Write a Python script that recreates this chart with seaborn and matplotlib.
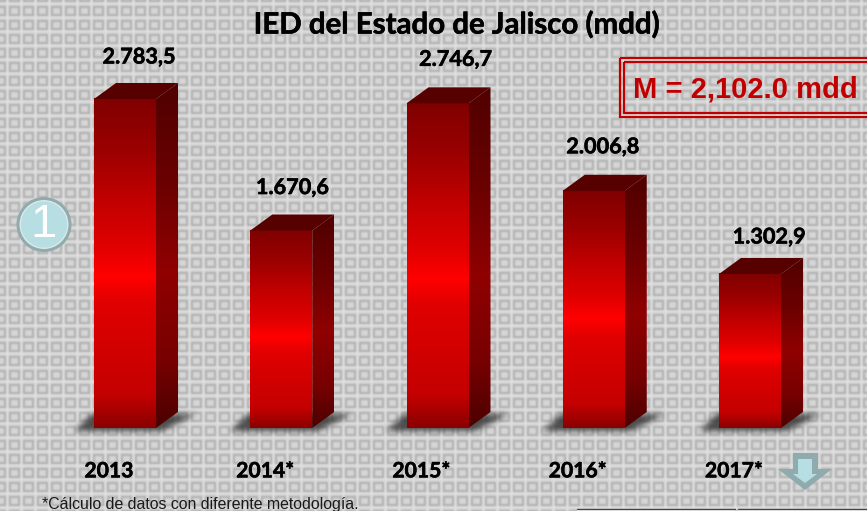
import numpy as np
import pandas as pd
import seaborn as sns
import matplotlib.pyplot as plt
import matplotlib.patheffects as pe
from matplotlib.colors import LinearSegmentedColormap
from matplotlib.patches import Circle, Polygon, Rectangle
from matplotlib.path import Path
from matplotlib.transforms import ScaledTranslation

# Chart data
years = ["2013", "2014*", "2015*", "2016*", "2017*"]
ied = [2783.5, 1670.6, 2746.7, 2006.8, 1302.9]
value_labels = ["2.783,5", "1.670,6", "2.746,7", "2.006,8", "1.302,9"]

# Value label placement relative to the front of each bar, in pixels
label_dx = [14, 11, 18, 9, 19]
label_dy = [42, 43, 44, 44, 37]

W, H = 867, 511
BASE = 428        # pixel row of the bar bottoms
PX_PER_UNIT = 0.1182
PITCH = 156.25    # pixels between bars
DEPTH_X, DEPTH_Y = 22, 16

sns.set_theme(style="white")
plt.rcParams["font.family"] = ["Lato", "DejaVu Sans"]

# Lato bold comes out lighter than the original, so thicken it a bit
heavy = [pe.withStroke(linewidth=0.4, foreground="black")]


def blur(a, n):
    # repeated box filter, wraps at the edges
    for _ in range(n):
        a = (a + np.roll(a, 1, 0) + np.roll(a, -1, 0) + np.roll(a, 1, 1) + np.roll(a, -1, 1)) / 5
    return a


fig = plt.figure(figsize=(W / 100, H / 100), dpi=100)

# Tiled background
tile = np.full((14, 14), 212.0)
tile[1:11, 1:12] = 176
tile[3:9, 3:10] = 214
tile[12, :] = 230
tile[:, 13] = 230
tile = blur(tile, 2)
bg = np.tile(tile, (H // 14 + 2, W // 14 + 2))
bg = bg[9:9 + H, 6:6 + W]
fig.figimage(np.dstack([bg, bg, bg]).astype(np.uint8), zorder=0, origin="upper")

# Main axes: covers everything above the bar baseline
ax = fig.add_axes([0, (H - BASE) / H, 1, BASE / H])
ax.set_zorder(2)
ax.patch.set_visible(False)

df = pd.DataFrame({"year": years, "ied": ied})
sns.barplot(data=df, x="year", y="ied", width=62 / PITCH, color="#b00000", saturation=1,
            linewidth=0, ax=ax)
ax.set_xlim(-125 / PITCH, (W - 125) / PITCH)
xlim = ax.get_xlim()
ylim = (0, BASE / PX_PER_UNIT)
ax.set_ylim(ylim)
ax.set_xlabel("")
ax.set_ylabel("")
ax.yaxis.set_visible(False)
sns.despine(ax=ax, left=True, bottom=True)
ax.tick_params(axis="x", length=0, pad=24)
shift = ScaledTranslation(-16 / 100, 0, fig.dpi_scale_trans)
for lab in ax.get_xticklabels():
    lab.set_fontsize(15.2)
    lab.set_fontweight("bold")
    lab.set_color("black")
    lab.set_path_effects(heavy)
    lab.set_transform(lab.get_transform() + shift)

front_cmap = LinearSegmentedColormap.from_list("front", [
    (0, "#800000"), (0.15, "#9a0000"), (0.3, "#c00000"), (0.45, "#e00000"), (0.54, "#ff0000"),
    (0.62, "#e00000"), (0.9, "#c40000"), (1, "#8a0000")])
side_cmap = LinearSegmentedColormap.from_list("side", [
    (0, "#500000"), (0.3, "#6c0000"), (0.55, "#900000"), (0.8, "#780000"), (1, "#4c0000")])
grad = np.linspace(0, 1, 256).reshape(-1, 1)

dx = DEPTH_X / PITCH
dy = DEPTH_Y / PX_PER_UNIT
shadow_mask = np.zeros((H, W))
yy, xx = np.mgrid[0:H, 0:W]
grid = np.column_stack([xx.ravel() + 0.5, yy.ravel() + 0.5])

for bar, val, lab, ldx, ldy in zip(ax.patches, ied, value_labels, label_dx, label_dy):
    x0, x1 = bar.get_x(), bar.get_x() + bar.get_width()
    h = bar.get_height()
    ax.imshow(grad, cmap=front_cmap, extent=(x0, x1, 0, h), aspect="auto", zorder=3)

    side = Polygon([(x1, 0), (x1 + dx, dy), (x1 + dx, h + dy), (x1, h)], closed=True,
                   facecolor="none", edgecolor="none", zorder=3)
    ax.add_patch(side)
    im = ax.imshow(grad, cmap=side_cmap, extent=(x1, x1 + dx, 0, h + dy), aspect="auto", zorder=3)
    im.set_clip_path(side)
    ax.add_patch(Polygon([(x0, h), (x0 + dx, h + dy), (x1 + dx, h + dy), (x1, h)], closed=True,
                         facecolor="#560000", edgecolor="none", zorder=3))
    ax.text((x0 + x1) / 2 + ldx / PITCH, h + ldy / PX_PER_UNIT, lab, ha="center", va="center",
            fontsize=15.6, fontweight="bold", color="black", zorder=5, path_effects=heavy)

    # soft shadow on the floor
    px0 = (x0 - xlim[0]) * PITCH
    px1 = (x1 - xlim[0]) * PITCH
    poly = Path([(px0 - 20, BASE + 3), (px0 - 2, BASE - 14), (px1 + DEPTH_X + 18, BASE - 14),
                 (px1 + 6, BASE + 3)])
    shadow_mask += poly.contains_points(grid).reshape(H, W)

ax.set_xlim(xlim)
ax.set_ylim(ylim)

shadow = blur(shadow_mask, 22) * 0.85
rgba = np.zeros((H, W, 4))
rgba[..., :3] = 0.2
rgba[..., 3] = shadow
fig.figimage(rgba, zorder=1, origin="upper")

# Overlay in pixel coordinates for the slide furniture
px = fig.add_axes([0, 0, 1, 1])
px.set_zorder(3)
px.set_xlim(0, W)
px.set_ylim(H, 0)
px.axis("off")

px.text(456, 25, "IED del Estado de Jalisco (mdd)", ha="center", va="center",
        fontsize=21.2, fontweight="bold", color="black", path_effects=heavy)
px.text(42, 504, "*Cálculo de datos con diferente metodología.", ha="left", va="center",
        fontsize=11.4, family="Liberation Sans", color="#1a1a1a")

# Mean box, runs off the right edge
red = "#c00000"
px.add_patch(Rectangle((619.5, 58.5), 270, 59, fill=False, edgecolor=red, linewidth=1.6))
px.add_patch(Rectangle((623.5, 62.5), 270, 51, fill=False, edgecolor=red, linewidth=1.6))
px.text(745.5, 89, "M = 2,102.0 mdd", ha="center", va="center", fontsize=21, fontweight="bold",
        family="Liberation Sans", color=red)

# Numbered circle
ring = "#8fabad"
light = "#b7dee2"
px.add_patch(Circle((44, 224.5), 27.5, facecolor=ring, edgecolor="none"))
px.add_patch(Circle((44, 224.5), 24.5, facecolor="#dbe6e6", edgecolor="none"))
px.add_patch(Circle((44, 224.5), 23, facecolor=light, edgecolor="none"))
px.text(44, 225, "1", ha="center", va="center", fontsize=34, family="Liberation Sans", color="white")

# Down arrow
px.add_patch(Polygon([(793, 453), (818, 453), (818, 469), (832, 469), (805, 490), (778, 469), (793, 469)],
                     closed=True, facecolor=ring, edgecolor="none"))
px.add_patch(Polygon([(798, 459), (812, 459), (812, 474), (817, 474), (805, 483), (793, 474), (798, 474)],
                     closed=True, facecolor=light, edgecolor="none"))

# Cut off white boxes on the bottom edge
for x_left, x_right in [(577, 735), (738, 867)]:
    px.add_patch(Rectangle((x_left, 509), x_right - x_left, 3, facecolor="white", edgecolor="none"))
    px.plot([x_left, x_right], [509.5, 509.5], color="#444444", linewidth=1)

px.set_xlim(0, W)
px.set_ylim(H, 0)
fig.savefig("out.png", dpi=100)
